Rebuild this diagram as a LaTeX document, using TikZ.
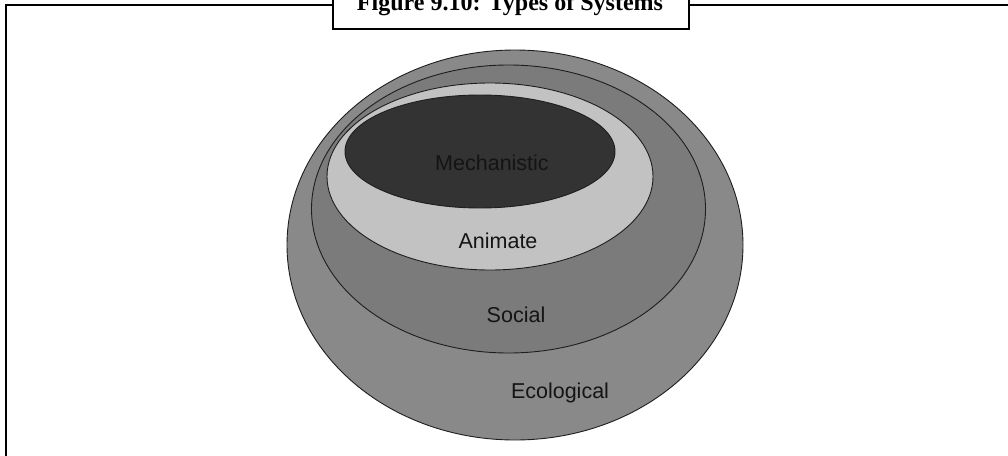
\documentclass[tikz,border=0pt]{standalone}
\usepackage{fontspec}
\setmainfont{Liberation Sans}
\newfontfamily\capfont{Liberation Serif}
\usetikzlibrary{shapes.geometric}
\definecolor{ecofill}{HTML}{898989}
\definecolor{socfill}{HTML}{7B7B7B}
\definecolor{anifill}{HTML}{C2C2C2}
\definecolor{mecfill}{HTML}{333333}
\definecolor{edge}{HTML}{1E1E1E}
\definecolor{ink}{HTML}{141414}
\tikzset{
  ring/.style={ellipse, draw=edge, line width=0.9pt, inner sep=0pt},
  lbl/.style={anchor=base, text=ink, font=\fontsize{21.5}{22}\selectfont, inner sep=0pt},
  frame/.style={line width=2.4pt, draw=black},
}
\begin{document}
\begin{tikzpicture}[x=1pt,y=-1pt]
\useasboundingbox (0,0) rectangle (1008,455);
% outer frame
\coordinate (ftl) at (6,5);
\coordinate (ftr) at (1012,5);
\coordinate (fbl) at (6,460);
\draw[frame] (fbl) -- (ftl) -- (ftr);
% caption box
\node[draw=black, line width=2pt, fill=white, minimum width=356pt, minimum height=45pt, inner sep=0pt] (capbox) at (511,6.5) {};
\node[anchor=base, inner sep=0pt] (cap) at (510,10.5) {\resizebox{306pt}{!}{\capfont\bfseries Figure 9.10: Types of Systems}};
% ellipses
\node[ring, fill=ecofill, minimum width=456pt, minimum height=390pt] (eco) at (515,245) {};
\node[ring, fill=socfill, minimum width=394pt, minimum height=288pt] (soc) at (508.5,209) {};
\node[ring, fill=anifill, minimum width=326pt, minimum height=187pt] (ani) at (490,176.5) {};
\node[ring, fill=mecfill, minimum width=270pt, minimum height=113pt] (mec) at (480,151.5) {};
% labels
\node[lbl] (tmec) at (492,170) {Mechanistic};
\node[lbl] (tani) at (498,248) {Animate};
\node[lbl] (tsoc) at (516,322) {Social};
\node[lbl] (teco) at (560,398) {Ecological};
\end{tikzpicture}
\end{document}
